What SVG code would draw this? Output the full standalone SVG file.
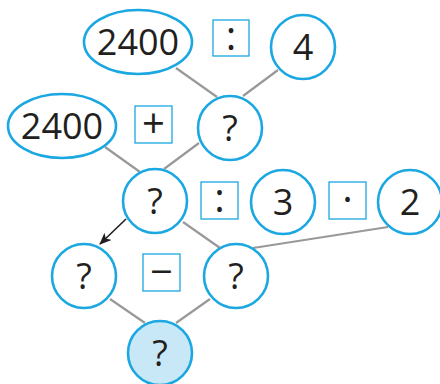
<svg xmlns="http://www.w3.org/2000/svg" width="440" height="384" viewBox="0 0 440 384">
<defs>
<style>
.n{fill:#fff;stroke:#1aa7e2;stroke-width:2.6}
.r{fill:#c8e8f7}
.b{fill:none;stroke:#1aa7e2;stroke-width:1.3}
.t{font-family:"Open Sans","Liberation Sans",sans-serif;font-size:36px;fill:#231f20;text-anchor:middle}
.op{font-family:"Open Sans","Liberation Sans",sans-serif;font-size:40px;fill:#231f20;text-anchor:middle}
.c{stroke:#999;stroke-width:2.2;fill:none}
</style>
<marker id="ah" viewBox="0 0 12 10" refX="11" refY="5" markerWidth="12" markerHeight="10" markerUnits="userSpaceOnUse" orient="auto">
<path d="M0,0 L12,5 L0,10 L3,5 Z" fill="#231f20"/>
</marker>
</defs>
<g id="connectors">
<line class="c" x1="176" y1="68" x2="217" y2="97"/>
<line class="c" x1="278" y1="70" x2="243" y2="96"/>
<line class="c" x1="105" y1="147" x2="140" y2="172"/>
<line class="c" x1="199" y1="143" x2="164" y2="169"/>
<line class="c" x1="183" y1="222" x2="220" y2="248"/>
<line class="c" x1="388" y1="227" x2="253" y2="248"/>
<line class="c" x1="110" y1="299" x2="145" y2="323"/>
<line class="c" x1="210" y1="299" x2="176" y2="323"/>
<line x1="126" y1="219" x2="100" y2="244" stroke="#231f20" stroke-width="1.6" marker-end="url(#ah)"/>
</g>
<g id="e2400a"><ellipse class="n" cx="138" cy="42" rx="54" ry="32"/><text class="t" x="138" y="55">2400</text></g>
<g id="opdiv1"><rect class="b" x="213" y="20" width="36" height="36"/><text class="op" x="231" y="50">:</text></g>
<g id="c4"><circle class="n" cx="303" cy="47" r="32"/><text class="t" x="303" y="60">4</text></g>
<g id="e2400b"><ellipse class="n" cx="62" cy="126" rx="54" ry="32"/><text class="t" x="62" y="139">2400</text></g>
<g id="opplus"><rect class="b" x="135" y="106" width="37" height="37"/><text class="op" x="153.5" y="138">+</text></g>
<g id="q1"><circle class="n" cx="230" cy="128" r="32"/><text class="t" x="230" y="141">?</text></g>
<g id="q2"><circle class="n" cx="155" cy="201" r="32"/><text class="t" x="155" y="214">?</text></g>
<g id="opdiv2"><rect class="b" x="201" y="182" width="37" height="37"/><text class="op" x="219.5" y="212">:</text></g>
<g id="c3"><circle class="n" cx="283" cy="202" r="32"/><text class="t" x="283" y="215">3</text></g>
<g id="opmul"><rect class="b" x="329" y="182" width="37" height="37"/><text class="op" x="347.5" y="213">·</text></g>
<g id="c2"><circle class="n" cx="410" cy="202" r="32"/><text class="t" x="410" y="215">2</text></g>
<g id="q3"><circle class="n" cx="84" cy="276" r="32"/><text class="t" x="84" y="289">?</text></g>
<g id="opminus"><rect class="b" x="143" y="254" width="37" height="37"/><text class="op" x="161.5" y="286">−</text></g>
<g id="q4"><circle class="n" cx="236" cy="276" r="32"/><text class="t" x="236" y="289">?</text></g>
<g id="q5"><circle class="n r" cx="160" cy="353" r="32"/><text class="t" x="160" y="366">?</text></g>
</svg>
